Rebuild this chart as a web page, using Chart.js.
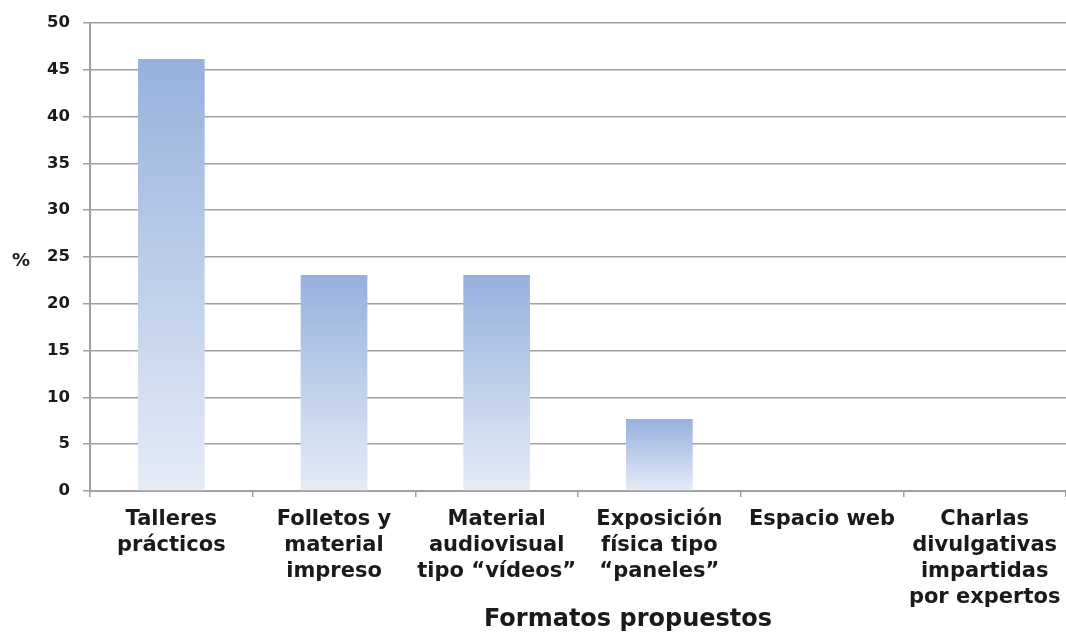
<!DOCTYPE html>
<html>
<head>
<meta charset="utf-8">
<script src="https://cdn.jsdelivr.net/npm/chart.js@4"></script>
<style>
  html, body { margin: 0; padding: 0; background: #fff; }
  #wrap { width: 1066px; height: 634px; }
</style>
</head>
<body>
<div id="wrap"><canvas id="formatosChart" width="1066" height="634"></canvas></div>
<script>
const categorias = [
  ["Talleres", "prácticos"],
  ["Folletos y", "material", "impreso"],
  ["Material", "audiovisual", "tipo “vídeos”"],
  ["Exposición", "física tipo", "“paneles”"],
  ["Espacio web"],
  ["Charlas", "divulgativas", "impartidas", "por expertos"]
];
const porcentajes = [46.15, 23.08, 23.08, 7.69, 0, 0];
const yMin = 0;
const yMax = 50;
const yPaso = 5;
const tituloX = "Formatos propuestos";
const tituloY = "%";

const FONT = "'DejaVu Sans', Verdana, sans-serif";
const GRIS = "#a0a0a0";
const TEXTO = "#1a1a1a";

function el(id) {
  return document.getElementById(id);
}

// degradado vertical por barra (oscuro arriba, claro abajo)
function barGradient(ctx) {
  const chart = ctx.chart;
  const y = chart.scales.y;
  if (!y || ctx.raw == null) return "#a7bfe2";
  const top = y.getPixelForValue(ctx.raw);
  const bottom = y.getPixelForValue(0);
  if (!isFinite(top) || !isFinite(bottom) || bottom - top < 1) return "#a7bfe2";
  const g = chart.ctx.createLinearGradient(0, top, 0, bottom);
  g.addColorStop(0, "#96b1dd");
  g.addColorStop(1, "#e5ecf7");
  return g;
}

const axisTitles = {
  id: "axisTitles",
  afterDraw(chart) {
    const c = chart.ctx;
    const area = chart.chartArea;
    c.save();
    c.fillStyle = TEXTO;
    c.textBaseline = "middle";
    c.textAlign = "center";
    c.font = "bold 18px " + FONT;
    c.fillText(tituloY, 21, (area.top + area.bottom) / 2 + 4);
    c.font = "bold 24px " + FONT;
    c.fillText(tituloX, 628, 620);
    c.restore();
  }
};

new Chart(el("formatosChart"), {
  type: "bar",
  data: {
    labels: categorias,
    datasets: [{
      data: porcentajes,
      backgroundColor: barGradient,
      borderWidth: 0,
      categoryPercentage: 1,
      barPercentage: 0.41
    }]
  },
  options: {
    responsive: false,
    animation: false,
    devicePixelRatio: 1,
    layout: { padding: { top: 21, right: 0, bottom: 0, left: 0 } },
    plugins: {
      legend: { display: false },
      tooltip: { enabled: false }
    },
    scales: {
      x: {
        offset: true,
        grid: {
          offset: true,
          drawOnChartArea: false,
          color: GRIS,
          tickLength: 6,
          lineWidth: 1.5
        },
        border: { color: GRIS, width: 2 },
        ticks: {
          color: TEXTO,
          font: { family: FONT, size: 21, weight: "bold", lineHeight: 1.23 },
          padding: 10,
          maxRotation: 0,
          autoSkip: false
        },
        afterFit(scale) {
          scale.height = 143;
          scale.paddingLeft = 0;
          scale.paddingRight = 0;
        }
      },
      y: {
        min: yMin,
        max: yMax,
        grid: {
          color: GRIS,
          lineWidth: 1.5,
          tickLength: 7
        },
        border: { color: GRIS, width: 2 },
        ticks: {
          stepSize: yPaso,
          color: TEXTO,
          font: { family: FONT, size: 16.5, weight: "bold" },
          padding: 13
        },
        afterFit(scale) { scale.width = 90; }
      }
    }
  },
  plugins: [axisTitles]
});
</script>
</body>
</html>
